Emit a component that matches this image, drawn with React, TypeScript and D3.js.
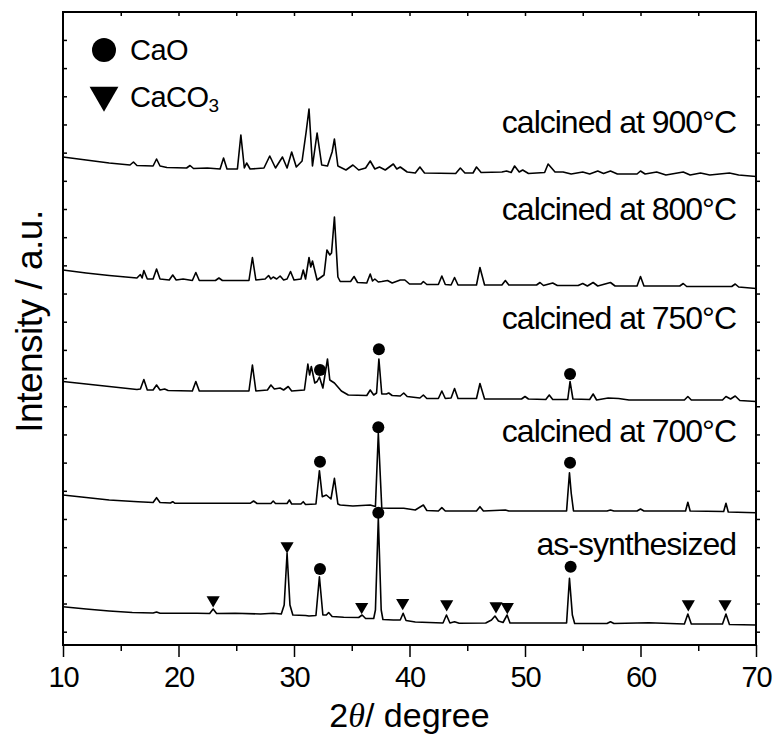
import { useEffect, useRef } from 'react';
import * as d3 from 'd3';

// 2θ / intensity (a.u.) pairs; curves are offset vertically
const as900: [number, number][] = [
  [10, 488], [12, 485], [14, 482], [15.8, 480], [16.1, 483], [16.4, 479.5], [17.8, 479], [18.1, 486],
  [18.4, 479], [19, 477.5], [20.7, 477], [21.0, 479.5], [21.3, 476.5], [22.5, 477], [23.6, 476],
  [23.9, 487], [24.2, 476], [25.1, 476], [25.4, 510], [25.7, 477], [25.9, 482], [26.2, 476],
  [27.4, 477], [27.9, 489], [28.4, 477], [29.0, 488], [29.4, 477], [29.8, 493], [30.2, 478],
  [30.7, 484], [31.05, 513], [31.3, 536], [31.6, 479], [32.0, 512], [32.4, 480], [32.9, 479],
  [33.3, 493], [33.5, 506], [33.8, 479], [34.5, 475], [35.1, 480], [35.6, 475], [36.2, 477],
  [36.6, 484], [37.0, 476], [37.4, 478], [37.9, 475], [38.6, 481], [38.9, 476], [39.2, 478],
  [39.8, 473], [40.5, 472], [40.9, 478], [41.3, 472], [44.0, 471.5], [44.4, 477], [44.8, 472],
  [45.5, 472], [45.8, 478], [46.2, 472.5], [48.0, 473], [48.4, 474], [48.8, 472.5], [49.1, 479],
  [49.5, 473], [49.8, 475], [50.3, 471.5], [51.7, 472.5], [52.0, 481], [52.6, 473], [53.3, 473],
  [54.0, 471], [55.0, 473], [55.6, 471], [56.3, 474], [56.8, 471.5], [57.4, 474], [58.0, 471],
  [59.7, 471], [60.0, 474], [60.4, 471], [61.4, 473], [62.2, 470], [63.7, 473], [64.3, 470],
  [65.2, 472], [66.0, 470], [67.7, 472], [68.5, 470], [70, 468.5],
];

const as800: [number, number][] = [
  [10, 375], [12, 372], [14, 369.5], [16.4, 367], [16.7, 370.5], [16.85, 367], [17.0, 374.5],
  [17.3, 366], [17.8, 366], [18.1, 376], [18.4, 366], [19.2, 365], [19.5, 370], [19.8, 365],
  [20.4, 366], [21.2, 364.5], [21.5, 372.5], [21.8, 364.5], [23.2, 364.5], [23.5, 367], [23.8, 364.5],
  [26.1, 364.5], [26.4, 387.5], [26.7, 365], [27.5, 366], [27.8, 369.5], [28.0, 366], [28.2, 368],
  [28.5, 366], [28.8, 369], [29.1, 365], [29.4, 366], [29.7, 373.5], [30.0, 365], [30.6, 366],
  [30.8, 375], [31.0, 366], [31.3, 387.5], [31.45, 378], [31.6, 384], [32.0, 365], [32.6, 370],
  [32.85, 395], [33.1, 390], [33.25, 392], [33.5, 428], [33.8, 368], [34.0, 363.5], [34.9, 363.5],
  [35.2, 368.5], [35.5, 362.5], [36.3, 362], [36.6, 371], [36.8, 364], [37.0, 366], [37.3, 363],
  [37.6, 363.5], [38.1, 364.5], [38.5, 362], [39.2, 365], [39.6, 365], [40.0, 361], [41.0, 361],
  [41.2, 363.5], [41.5, 360.5], [42.5, 360.5], [42.8, 369], [43.1, 360.5], [43.6, 360], [43.9, 367.5],
  [44.2, 360], [45.8, 360], [46.1, 377.5], [46.5, 360], [48.0, 360], [48.3, 364.5], [48.6, 360],
  [51.0, 360], [51.3, 362.5], [51.6, 359.5], [52.4, 362], [52.8, 359.5], [54.6, 359.5], [55.0, 361.5],
  [55.4, 359], [55.9, 362.5], [56.3, 359], [57.4, 362.5], [57.8, 359], [59.7, 359], [60.0, 368.5],
  [60.3, 359], [63.4, 359], [63.7, 361.5], [64.0, 358.5], [67.9, 358.5], [68.2, 361], [68.5, 358],
  [70, 356.5],
];

const as750: [number, number][] = [
  [10, 263.5], [12, 261], [14, 258.5], [16.4, 255.5], [16.7, 256], [17.0, 265.5], [17.3, 255],
  [17.8, 255], [18.1, 260], [18.4, 255], [18.8, 256], [19.1, 254.5], [21.2, 254], [21.5, 263.5],
  [21.8, 254], [26.1, 254], [26.4, 280], [26.7, 254], [27.7, 255], [28.0, 260], [28.3, 256],
  [28.8, 257], [29.1, 255], [29.5, 258.5], [29.8, 254], [30.9, 255], [31.2, 281], [31.35, 270],
  [31.5, 278.5], [31.8, 262], [32.0, 263.5], [32.2, 268], [32.5, 257], [32.9, 286], [33.1, 265],
  [33.3, 263.5], [33.5, 262], [33.8, 258], [34.1, 254], [34.4, 252], [34.7, 250], [36.3, 249.5],
  [36.6, 255], [36.9, 250], [37.15, 252], [37.35, 286], [37.6, 251], [38.0, 251], [38.2, 252],
  [38.5, 249.5], [39.2, 249], [39.5, 252], [39.8, 248.5], [40.9, 247], [41.2, 250], [41.5, 246.5],
  [42.5, 246.5], [42.8, 254], [43.1, 246.5], [43.6, 247], [43.9, 256.5], [44.2, 246.5], [45.8, 246.5],
  [46.1, 261.5], [46.5, 246], [49.7, 246], [50.0, 248.5], [50.3, 246], [51.8, 245.5], [52.1, 250],
  [52.4, 245.5], [53.7, 245.5], [53.9, 263.5], [54.15, 246], [55.6, 245.5], [55.9, 251], [56.2, 245],
  [57.2, 247], [58.1, 246.5], [59, 245], [63.8, 245], [64.1, 248.5], [64.4, 245], [67.1, 245],
  [67.4, 248.5], [67.8, 246], [68.2, 249], [68.6, 244.5], [70, 243.5],
];

const as700: [number, number][] = [
  [10, 150], [12, 147.5], [14, 145], [16.5, 143.3], [17.8, 142.5], [18.1, 147.3], [18.4, 142.5],
  [19.3, 142], [19.5, 143.3], [19.7, 141.7], [26.2, 141.7], [26.5, 144], [26.8, 141.5], [28.0, 141.5],
  [28.2, 144], [28.4, 141.5], [29.4, 141.5], [29.6, 145], [29.8, 141], [30.6, 141], [30.8, 143.3],
  [31.0, 140.5], [31.9, 141], [32.2, 174.3], [32.45, 148.3], [32.8, 150], [33.2, 146], [33.5, 166.7],
  [33.8, 141], [34.0, 140], [35.1, 139], [36.6, 140], [37.05, 138.5], [37.3, 211.7], [37.6, 137],
  [38.2, 136.7], [39.5, 136.7], [40.5, 135], [41.2, 140], [41.5, 134.5], [42.5, 134], [42.8, 137.3],
  [43.1, 134], [45.8, 134], [46.1, 138.3], [46.4, 134], [48.3, 135], [48.6, 134], [53.6, 134],
  [53.85, 172.3], [54.0, 152], [54.2, 134], [57.1, 134], [57.4, 135], [57.7, 134], [59.7, 134],
  [60.0, 136], [60.3, 134], [63.9, 134], [64.1, 142.7], [64.3, 134], [67.2, 133.5], [67.4, 141.7],
  [67.6, 133], [70, 132.3],
];

const asSynth: [number, number][] = [
  [10, 38.3], [12, 36], [14, 34], [16, 32.5], [17.8, 32], [18.1, 33], [18.4, 31.7], [21.6, 31.7],
  [22.7, 31.5], [23.0, 36], [23.3, 31.5], [24.9, 31.7], [27.1, 31], [28.2, 31.7], [28.9, 31],
  [29.15, 40], [29.4, 91.7], [29.65, 40], [29.9, 30], [31.0, 29.5], [31.3, 29], [31.9, 29.5],
  [32.2, 68.3], [32.5, 30], [32.8, 30], [33.0, 32.5], [33.3, 28.5], [34.3, 27.7], [35.6, 27.5],
  [35.9, 30], [36.2, 26.5], [36.9, 26.5], [37.05, 35], [37.3, 126.7], [37.55, 35], [37.7, 25.5],
  [38.6, 25], [39.2, 25], [39.45, 31.7], [39.7, 24.5], [40.5, 23], [42.9, 22], [43.2, 30], [43.5, 22],
  [43.9, 23.3], [44.3, 21.7], [46.6, 22], [47.1, 25], [47.4, 29], [47.7, 24], [48.1, 22.5],
  [48.45, 30], [48.7, 22], [53.6, 22], [53.85, 66.7], [54.1, 30], [54.3, 21.5], [57.1, 21.5],
  [57.4, 23.3], [57.7, 21.5], [60.7, 22.3], [63.8, 21], [64.1, 31], [64.4, 21], [67.1, 21],
  [67.4, 31], [67.7, 20.5], [70, 20],
];

const patterns = [as900, as800, as750, as700, asSynth];
const patternLabels = ['calcined at 900°C', 'calcined at 800°C', 'calcined at 750°C', 'calcined at 700°C', 'as-synthesized'];
// label baselines, in intensity units
const labelLevels = [512, 425, 316, 203, 90];

// phase markers (2θ, intensity where the symbol sits)
const caoMarks: [number, number][] = [
  [32.25, 275], [37.35, 295.7], [53.9, 271],
  [32.25, 183.3], [37.3, 217.7], [53.9, 182.3],
  [32.25, 76], [37.3, 132.3], [53.95, 78.3],
];
const caco3Marks: [number, number][] = [
  [23.0, 45], [29.4, 99], [35.86, 38.3], [39.41, 42.3], [43.22, 41],
  [47.49, 39], [48.47, 38.3], [64.14, 41], [67.32, 41],
];

const xMajorTicks = [10, 20, 30, 40, 50, 60, 70];
const xMinorTicks = [15, 25, 35, 45, 55, 65];

export default function App() {
  const svgRef = useRef<SVGSVGElement>(null);

  useEffect(() => {
    const width = 777;
    const height = 744;
    const margin = { top: 12, right: 21, bottom: 99, left: 63 };
    const font = "'Liberation Sans', Arial, sans-serif";

    const x = d3.scaleLinear().domain([10, 70]).range([margin.left, width - margin.right]);
    const y = d3.scaleLinear().domain([0, 633]).range([height - margin.bottom, margin.top]);

    const svg = d3.select(svgRef.current);
    svg.selectAll('*').remove();

    const line = d3
      .line<[number, number]>()
      .x(d => x(d[0]))
      .y(d => y(d[1]));

    // Patterns
    svg
      .append('g')
      .selectAll('path')
      .data(patterns)
      .enter()
      .append('path')
      .attr('d', d => line(d))
      .attr('fill', 'none')
      .attr('stroke', '#000')
      .attr('stroke-width', 1.6)
      .attr('stroke-linejoin', 'round');

    // Pattern labels
    svg
      .append('g')
      .selectAll('text')
      .data(patternLabels)
      .enter()
      .append('text')
      .attr('x', 736)
      .attr('y', (_, i) => y(labelLevels[i]))
      .attr('text-anchor', 'end')
      .style('font-family', font)
      .style('font-size', '32px')
      .style('letter-spacing', '-1px')
      .text(d => d);

    // CaO markers
    svg
      .append('g')
      .selectAll('circle')
      .data(caoMarks)
      .enter()
      .append('circle')
      .attr('cx', d => x(d[0]))
      .attr('cy', d => y(d[1]))
      .attr('r', 6)
      .attr('fill', '#000');

    // CaCO3 markers
    const tri = d3.symbol().type(d3.symbolTriangle).size(75);
    svg
      .append('g')
      .selectAll('path')
      .data(caco3Marks)
      .enter()
      .append('path')
      .attr('d', tri)
      .attr('transform', d => `translate(${x(d[0])},${y(d[1])}) rotate(180)`)
      .attr('fill', '#000');

    // Axes
    const bottom = height - margin.bottom;
    const gx = svg
      .append('g')
      .attr('transform', `translate(0,${bottom})`)
      .call(d3.axisBottom(x).tickValues(xMajorTicks).tickSize(12).tickPadding(9));
    gx.selectAll('text')
      .style('font-family', font)
      .style('font-size', '29px')
      .style('letter-spacing', '-1px')
      .attr('fill', '#000');
    svg
      .append('g')
      .attr('transform', `translate(0,${bottom})`)
      .call(d3.axisBottom(x).tickValues(xMinorTicks).tickSize(6).tickFormat(() => ''));
    svg
      .append('g')
      .attr('transform', `translate(0,${margin.top})`)
      .call(d3.axisTop(x).tickValues(d3.range(15, 70, 5)).tickSize(-4).tickFormat(() => ''));

    const yTicks = d3.range(13.3, 633, 28.18);
    svg
      .append('g')
      .attr('transform', `translate(${margin.left},0)`)
      .call(d3.axisLeft(y).tickValues(yTicks).tickSize(-4).tickFormat(() => ''));
    svg
      .append('g')
      .attr('transform', `translate(${width - margin.right},0)`)
      .call(d3.axisRight(y).tickValues(yTicks).tickSize(4).tickFormat(() => ''));

    svg.selectAll('.domain').remove();
    svg.selectAll('.tick line').attr('stroke', '#000').attr('stroke-width', 1.5);

    svg
      .append('rect')
      .attr('x', margin.left)
      .attr('y', margin.top)
      .attr('width', width - margin.left - margin.right)
      .attr('height', bottom - margin.top)
      .attr('fill', 'none')
      .attr('stroke', '#000')
      .attr('stroke-width', 2);

    // Axis titles
    const xt = svg
      .append('text')
      .attr('x', (margin.left + width - margin.right) / 2)
      .attr('y', 727)
      .attr('text-anchor', 'middle')
      .style('font-family', font)
      .style('font-size', '34px');
    xt.append('tspan').text('2');
    xt.append('tspan').style('font-family', "'Liberation Serif', 'Times New Roman', serif").style('font-style', 'italic').text('θ');
    xt.append('tspan').text('/ degree');

    svg
      .append('text')
      .attr('transform', `translate(42,${(margin.top + bottom) / 2 - 7}) rotate(-90)`)
      .attr('text-anchor', 'middle')
      .style('font-family', font)
      .style('font-size', '37px')
      .style('letter-spacing', '-0.5px')
      .text('Intensity / a.u.');

    // Legend
    const legend = svg.append('g');
    legend.append('circle').attr('cx', 104).attr('cy', 50).attr('r', 12).attr('fill', '#000');
    legend
      .append('path')
      .attr('d', d3.symbol().type(d3.symbolTriangle).size(360)())
      .attr('transform', 'translate(104,95) rotate(180)')
      .attr('fill', '#000');
    legend
      .append('text')
      .attr('x', 130)
      .attr('y', 60)
      .style('font-family', font)
      .style('font-size', '29px')
      .style('letter-spacing', '-0.5px')
      .text('CaO');
    const lt = legend
      .append('text')
      .attr('x', 130)
      .attr('y', 107)
      .style('font-family', font)
      .style('font-size', '29px')
      .style('letter-spacing', '-0.5px');
    lt.append('tspan').text('CaCO');
    lt.append('tspan').attr('dy', 5).style('font-size', '19px').text('3');
  }, []);

  return (
    <svg
      ref={svgRef}
      width={777}
      height={744}
      style={{ position: 'absolute', left: 0, top: 0, background: '#fff' }}
    ></svg>
  );
}
